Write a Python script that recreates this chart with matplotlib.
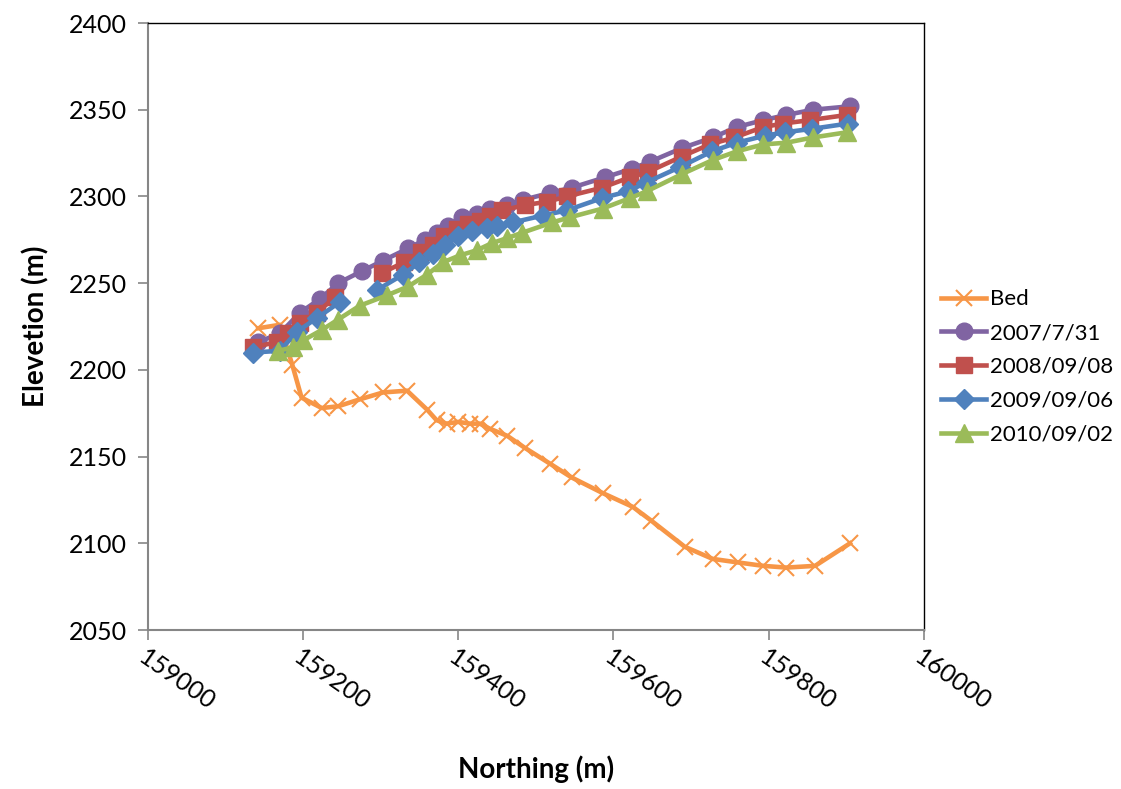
import numpy as np
import matplotlib.pyplot as plt

plt.rcParams['font.family'] = ['Lato', 'DejaVu Sans']

# survey data (northing m, elevation m)
bed_n = [159142, 159170, 159186, 159198, 159224, 159245, 159273, 159303, 159334, 159360,
         159372, 159385, 159400, 159415, 159428, 159441, 159463, 159486, 159518, 159546,
         159586, 159625, 159649, 159692, 159728, 159760, 159793, 159823, 159860, 159905]
bed_z = [2224, 2226, 2203, 2184, 2178, 2179, 2183, 2187, 2188, 2177,
         2171, 2169, 2170, 2169, 2169, 2166, 2162, 2155, 2146, 2138,
         2129, 2121, 2113, 2098, 2091, 2089, 2087, 2086, 2087, 2100]

n2007 = [159142, 159170, 159196, 159222, 159245, 159276, 159303, 159335, 159357, 159372,
         159387, 159405, 159424, 159441, 159463, 159483, 159518, 159546, 159589, 159624,
         159647, 159689, 159728, 159759, 159793, 159823, 159857, 159905]
z2007 = [2216, 2221, 2233, 2241, 2250, 2257, 2263, 2270, 2275, 2279,
         2283, 2288, 2290, 2293, 2295, 2298, 2302, 2305, 2311, 2316,
         2320, 2328, 2334, 2340, 2344, 2347, 2350, 2352]

n2008 = [159135, 159166, 159180, 159196, 159218, 159241, 159276, 159302, 159330, 159352,
         159367, 159381, 159398, 159412, 159428, 159441, 159457, 159486, 159515, 159540,
         159585, 159621, 159644, 159688, 159724, 159756, 159793, 159818, 159853, 159901]
z2008 = [2213, 2216, 2221, 2227, 2233, 2242, np.nan, 2256, 2262, 2268,
         2272, 2277, 2281, 2284, 2286, 2289, 2292, 2295, 2297, 2300,
         2305, 2311, 2314, 2323, 2330, 2334, 2340, 2342, 2344, 2347]

n2009 = [159135, 159170, 159192, 159218, 159247, 159270, 159295, 159329, 159350, 159367,
         159383, 159400, 159418, 159437, 159450, 159470, 159509, 159540, 159585, 159619,
         159642, 159686, 159727, 159759, 159795, 159821, 159856, 159902]
z2009 = [2210, 2211, 2222, 2230, 2239, np.nan, 2246, 2255, 2262, 2267,
         2272, 2277, 2280, 2282, 2283, 2285, 2289, 2292, 2299, 2303,
         2308, 2317, 2326, 2331, 2335, 2337, 2339, 2342]

n2010 = [159168, 159187, 159200, 159224, 159245, 159273, 159308, 159335, 159360, 159380,
         159402, 159424, 159443, 159463, 159482, 159521, 159544, 159586, 159621, 159643,
         159689, 159728, 159759, 159793, 159823, 159857, 159901]
z2010 = [2211, 2213, 2217, 2223, 2229, 2237, 2243, 2248, 2255, 2262,
         2266, 2269, 2273, 2276, 2279, 2285, 2288, 2293, 2299, 2303,
         2313, 2321, 2326, 2330, 2331, 2334, 2337]

fig = plt.figure(figsize=(11.21, 7.89), dpi=100)
ax = fig.add_axes([0.132, 0.2015, 0.692, 0.7693])

lw = 3.3
ax.plot(bed_n, bed_z, color='#F79646', lw=lw, marker='x', ms=12, mew=1.5, label='Bed')
ax.plot(n2007, z2007, color='#8064A2', lw=lw, marker='o', ms=12, label='2007/7/31')
ax.plot(n2008, z2008, color='#C0504D', lw=lw, marker='s', ms=11.5, label='2008/09/08')
ax.plot(n2009, z2009, color='#4F81BD', lw=lw, marker='D', ms=10, label='2009/09/06')
ax.plot(n2010, z2010, color='#9BBB59', lw=lw, marker='^', ms=13, label='2010/09/02')

ax.set_xlim(159000, 160000)
ax.set_ylim(2050, 2400)
ax.set_xticks(np.arange(159000, 160001, 200))
ax.set_yticks(np.arange(2050, 2401, 50))
ax.tick_params(axis='both', direction='out', length=7, width=1.2, color='#868686', labelsize=18)
for lab in ax.get_xticklabels():
    lab.set_rotation(-35)
    lab.set_ha('left')
    lab.set_va('top')
    lab.set_rotation_mode('anchor')
ax.tick_params(axis='x', pad=4)
ax.tick_params(axis='y', pad=8)
for s in ['left', 'bottom']:
    ax.spines[s].set_color('#868686')
    ax.spines[s].set_linewidth(1.5)
for s in ['top', 'right']:
    ax.spines[s].set_color('black')
    ax.spines[s].set_linewidth(1)

ax.set_xlabel('Northing (m)', fontsize=20, fontweight='bold', labelpad=30)
ax.set_ylabel('Elevetion (m)', fontsize=20, fontweight='bold', labelpad=14)

fig.legend(loc='center left', bbox_to_anchor=(0.822, 0.535), frameon=False,
           fontsize=16, handlelength=2.0, labelspacing=0.62, handletextpad=0.2)

fig.savefig('out.png', dpi=100)
